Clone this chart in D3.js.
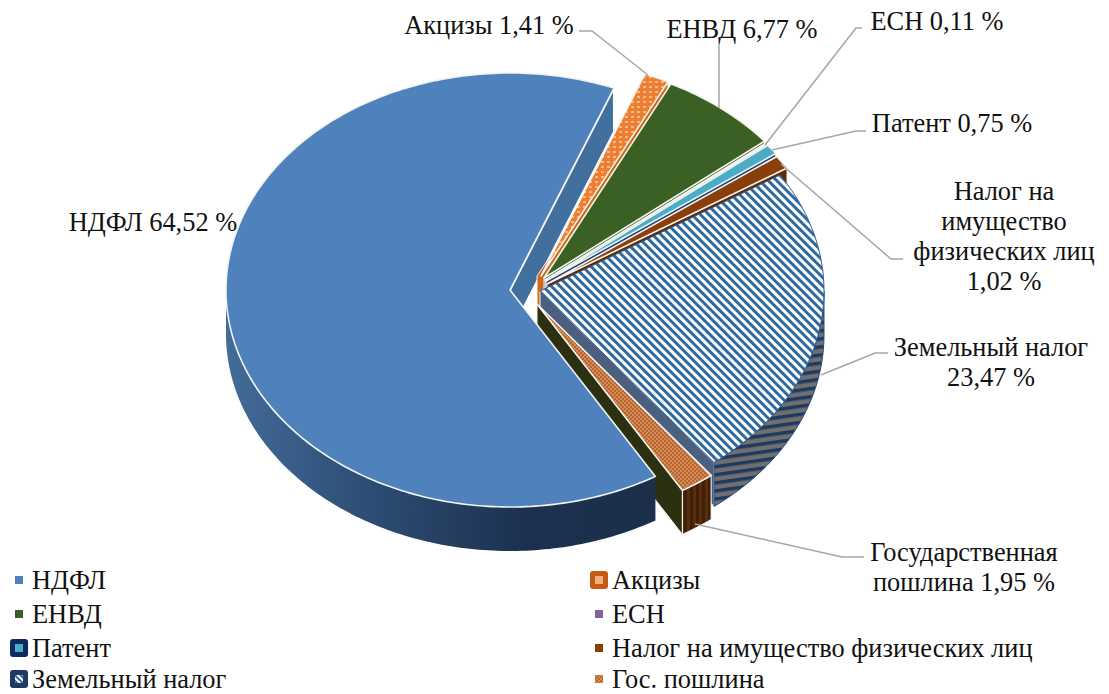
<!DOCTYPE html>
<html>
<head>
<meta charset="utf-8">
<script src="https://cdn.jsdelivr.net/npm/d3@7"></script>
<style>
  html, body { margin: 0; padding: 0; background: #fff; }
  text { font-family: "Liberation Serif", serif; font-size: 26.4px; fill: #111; }
</style>
</head>
<body>
<div id="chart"></div>
<script>
// data
const names = ["НДФЛ", "Акцизы", "ЕНВД", "ЕСН", "Патент", "Налог на имущество физических лиц", "Земельный налог", "Гос. пошлина"]
const values = [64.52, 1.41, 6.77, 0.11, 0.75, 1.02, 23.47, 1.95]
const labelTexts = [
    ["НДФЛ 64,52 %"],
    ["Акцизы 1,41 %"],
    ["ЕНВД 6,77 %"],
    ["ЕСН 0,11 %"],
    ["Патент 0,75 %"],
    ["Налог на", "имущество", "физических лиц", "1,02 %"],
    ["Земельный налог", "23,47 %"],
    ["Государственная", "пошлина 1,95 %"]
]

// layout of the exploded slices
const centers = [[510, 290], [541, 276], [544, 278], [545, 280], [546, 281], [547, 284], [540, 291], [537, 304]]
const labelPos = [[153, 231], [489, 34], [742, 38], [937, 30], [952, 132], [1004, 200], [991, 356], [964, 561]]
const leaders = [
    null,
    [[579, 31], [592, 31], [648, 75]],
    [[719, 44], [719, 108]],
    [[862, 28], [856, 28], [765, 145]],
    [[866, 131], [856, 131], [772, 150]],
    [[903, 259], [891, 259], [781, 164]],
    [[888, 353], [875, 353], [821, 375]],
    [[864, 557], [842, 557], [695, 524]]
]
const legendPos = [[32, 589], [612, 589], [32, 623], [612, 623], [32, 657], [612, 657], [32, 688], [612, 688]]

const width = 1109
const height = 694
const rx = 284
const ry = 217
const depth = 44
const startDeg = 149.2

const svg = d3.select("#chart").append("svg")
    .attr("width", width)
    .attr("height", height)
    .style("display", "block")
const defs = svg.append("defs")

function stripes(id, size, angle, bg, fg, w) {
    const p = defs.append("pattern").attr("id", id)
        .attr("patternUnits", "userSpaceOnUse")
        .attr("width", size).attr("height", size)
        .attr("patternTransform", `rotate(${angle})`)
    p.append("rect").attr("width", size).attr("height", size).attr("fill", bg)
    p.append("rect").attr("width", w).attr("height", size).attr("fill", fg)
}
stripes("zemTop", 6, -45, "#fff", "#2f6a9f", 3)
stripes("zemWall", 8, 82, "#6f6f6f", "#1f3a5f", 3.5)
stripes("gosWall", 6, 0, "#5a2d0c", "#3f1f08", 3)
stripes("legZem", 4, -45, "#fff", "#2f6a9f", 2)

const dots = defs.append("pattern").attr("id", "akcTop")
    .attr("patternUnits", "userSpaceOnUse").attr("width", 6).attr("height", 5)
dots.append("rect").attr("width", 6).attr("height", 5).attr("fill", "#ed7d31")
dots.append("rect").attr("x", 1).attr("y", 1).attr("width", 3).attr("height", 2).attr("fill", "#f8b988")

const grid = defs.append("pattern").attr("id", "gosTop")
    .attr("patternUnits", "userSpaceOnUse").attr("width", 4).attr("height", 4)
grid.append("rect").attr("width", 4).attr("height", 4).attr("fill", "#d08a5c")
grid.append("rect").attr("width", 2).attr("height", 2).attr("fill", "#b9652c")
grid.append("rect").attr("x", 2).attr("y", 2).attr("width", 2).attr("height", 2).attr("fill", "#b9652c")

const ndflRim = defs.append("linearGradient").attr("id", "ndflRim")
    .attr("gradientUnits", "userSpaceOnUse")
    .attr("x1", 225).attr("x2", 650).attr("y1", 0).attr("y2", 0)
ndflRim.append("stop").attr("offset", 0).attr("stop-color", "#426c99")
ndflRim.append("stop").attr("offset", 0.3).attr("stop-color", "#2f5078")
ndflRim.append("stop").attr("offset", 0.7).attr("stop-color", "#1c3150")
ndflRim.append("stop").attr("offset", 1).attr("stop-color", "#1b2f4b")

const topFill = ["#4f81bd", "url(#akcTop)", "#3b6023", "#a9bda0", "#4bacc6", "#8a3f0a", "url(#zemTop)", "url(#gosTop)"]
const endFill = ["#41709f", "#cf6a1c", "#2c4a1a", "#7f8f78", "#1f3f80", "#5f2b06", "#4b5f7e", "#2b3010"]
const rimFill = ["url(#ndflRim)", "#b85d17", "#2c4a1a", "#7f8f78", "#1f3f80", "#5f2b06", "url(#zemWall)", "url(#gosWall)"]
const rimStroke = ["none", "#fff", "#fff", "#fff", "#fff", "#fff", "#1f4a80", "#fff"]
// the cut face of Акцизы reaches a little left of its apex
const wallLean = [0, 4, 0, 0, 0, 0, 0, 0]

// slice angles from the values
const arcs = d3.pie().sort(null)
    .startAngle(startDeg * Math.PI / 180)
    .endAngle((startDeg + 360) * Math.PI / 180)(values)

const project = (c, a, dy = 0) => [c[0] + rx * Math.sin(a), c[1] - ry * Math.cos(a) + dy]
const line = d3.line()
const closed = pts => line(pts) + "Z"
const TAU = 2 * Math.PI

function rimPoints(c, a0, a1, dy) {
    const n = Math.max(2, Math.ceil(Math.abs(a1 - a0) * 60))
    return d3.range(n + 1).map(i => project(c, a0 + (a1 - a0) * i / n, dy))
}

function drawEndWall(i) {
    const c = centers[i]
    const a = arcs[i].endAngle
    const e = project(c, a)
    const x0 = c[0] - wallLean[i]
    chart.append("path")
        .attr("d", closed([[x0, c[1]], e, [e[0], e[1] + depth], [x0, c[1] + depth]]))
        .attr("fill", endFill[i])
        .attr("stroke", i === 0 ? "#fff" : "#f3f3f3")
        .attr("stroke-width", i === 0 ? 2 : 1)
}

function drawRim(i) {
    const c = centers[i]
    // the rim only shows on the near half of the ellipse, angles run past one full turn
    ;[0, TAU].forEach(turn => {
        const a0 = Math.max(arcs[i].startAngle, Math.PI / 2 + turn)
        const a1 = Math.min(arcs[i].endAngle, 3 * Math.PI / 2 + turn)
        if (a1 <= a0) return
        const upper = rimPoints(c, a0, a1, 0)
        const lower = rimPoints(c, a1, a0, depth)
        chart.append("path")
            .attr("d", closed(upper.concat(lower)))
            .attr("fill", rimFill[i])
            .attr("stroke", rimStroke[i])
            .attr("stroke-width", 1)
    })
}

function drawTop(i) {
    const c = centers[i]
    const pts = [c].concat(rimPoints(c, arcs[i].startAngle, arcs[i].endAngle, 0))
    chart.append("path")
        .attr("d", closed(pts))
        .attr("fill", topFill[i])
        .attr("stroke", i === 6 ? "#2f5f95" : "#f1f4ee")
        .attr("stroke-width", i === 6 ? 1 : 1.6)
        .attr("stroke-linejoin", "round")
}

const chart = svg.append("g")

// back to front: the cut face of НДФЛ first, its top and rim last
drawEndWall(0)
;[1, 2, 3, 4, 5, 6, 7].forEach(i => {
    drawEndWall(i)
    drawRim(i)
    drawTop(i)
})
drawRim(0)
drawTop(0)

// leader lines
svg.append("g").selectAll("path")
    .data(leaders.filter(d => d))
    .join("path")
    .attr("d", d => line(d))
    .attr("fill", "none")
    .attr("stroke", "#a6a6a6")
    .attr("stroke-width", 1.5)

// data labels
svg.append("g").selectAll("text")
    .data(labelTexts)
    .join("text")
    .attr("text-anchor", "middle")
    .attr("transform", (d, i) => `translate(${labelPos[i][0]},${labelPos[i][1]})`)
    .selectAll("tspan")
    .data(d => d)
    .join("tspan")
    .attr("x", 0)
    .attr("y", (d, i) => i * 30)
    .text(d => d)

// legend
const legendKeys = [
    {w: 8, fill: "#4f81bd"},
    {w: 8, fill: "#f0b080", box: "#c55a11"},
    {w: 8, fill: "#3b6023"},
    {w: 8, fill: "#8064a2"},
    {w: 8, fill: "#4bacc6", box: "#0f2a5f"},
    {w: 8, fill: "#8a3f0a"},
    {w: 8, fill: "url(#legZem)", box: "#1f3864"},
    {w: 8, fill: "url(#gosTop)"}
]
// reading order of the legend: left column, right column, row by row
const legend = svg.append("g").selectAll("g")
    .data(names)
    .join("g")
    .attr("transform", (d, i) => `translate(${legendPos[i][0]},${legendPos[i][1]})`)
legend.each(function (d, i) {
    const g = d3.select(this)
    const k = legendKeys[i]
    if (k.box) {
        g.append("rect").attr("x", -22).attr("y", -18).attr("width", 18).attr("height", 18)
            .attr("rx", 3).attr("fill", k.box)
    }
    g.append("rect").attr("x", -17).attr("y", -13).attr("width", k.w).attr("height", k.w)
        .attr("fill", k.fill)
    g.append("text").text(d)
})
</script>
</body>
</html>
